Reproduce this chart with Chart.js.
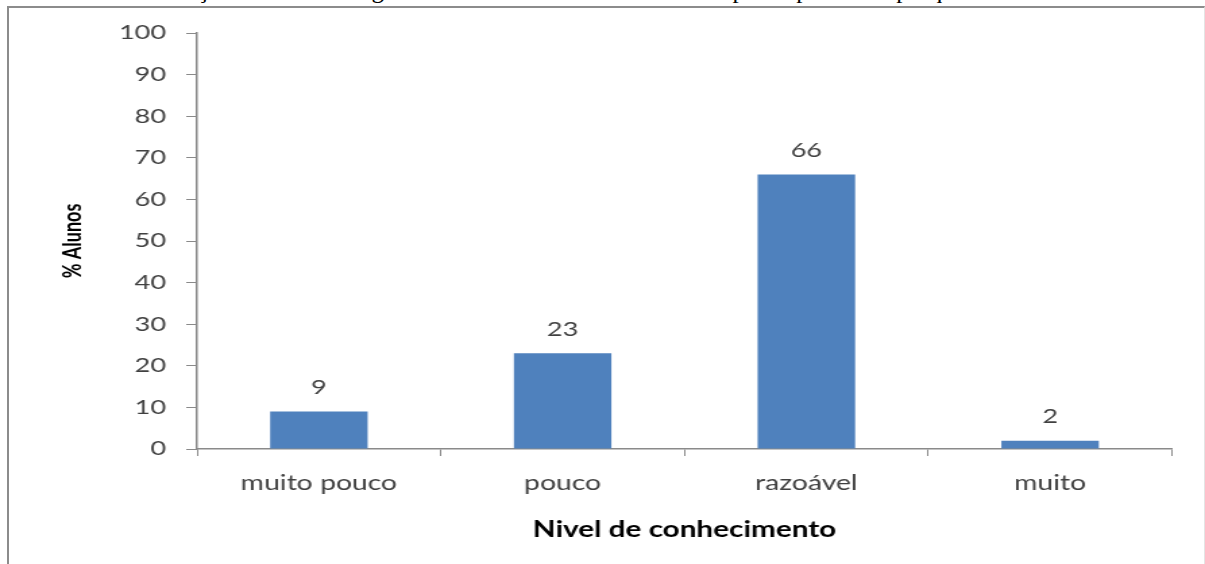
<!DOCTYPE html>
<html>
<head>
<meta charset="utf-8">
<script src="https://cdn.jsdelivr.net/npm/chart.js@4"></script>
<style>
  html, body { margin: 0; padding: 0; background: #fff; overflow: hidden; }
  body { width: 1205px; height: 564px; position: relative; }
  #caption {
    position: absolute; left: 0; top: -24px; white-space: nowrap;
    font-family: "Liberation Serif", serif; font-size: 25px; color: #000;
  }
  #frame {
    position: absolute; left: 7px; top: 6px; width: 1195px; height: 600px;
    border-left: 2px solid #8c8c8c; border-top: 2px solid #8c8c8c;
    border-right: 1px solid #e4e4e4;
    background: #fff;
  }
  /* chart is drawn narrow and widened to the page width */
  #wrap {
    position: absolute; left: 0; top: 0; width: 893px; height: 564px;
    transform: scaleX(1.3494); transform-origin: 0 0;
  }
</style>
</head>
<body>
<div id="caption">Gráfico 3: Distribuição dos alunos segundo o nível de conhecimento dos participantes da pesquisa.</div>
<div id="frame"></div>
<div id="wrap"><canvas id="chart" width="893" height="564"></canvas></div>
<script>
const categories = ["muito pouco", "pouco", "razoável", "muito"];
const percentAlunos = [9, 23, 66, 2];
const yMin = 0;
const yMax = 100;
const yStep = 10;

const textGray = "#404040";
const axisGray = "#8a8a8a";
const fontFamily = "Lato, 'Open Sans', sans-serif";

// value printed above each bar
const barValueLabels = {
    id: "barValueLabels",
    afterDatasetsDraw(chart) {
        const ctx = chart.ctx;
        const meta = chart.getDatasetMeta(0);
        ctx.save();
        ctx.font = "20px " + fontFamily;
        ctx.fillStyle = textGray;
        ctx.textAlign = "center";
        ctx.textBaseline = "middle";
        meta.data.forEach((bar, i) => {
            ctx.fillText(String(percentAlunos[i]), bar.x, bar.y - 24);
        });
        ctx.restore();
    }
};

new Chart(document.getElementById("chart").getContext("2d"), {
    type: "bar",
    data: {
        labels: categories,
        datasets: [{
            data: percentAlunos,
            backgroundColor: "#4f81bd",
            borderWidth: 0,
            barPercentage: 0.4,
            categoryPercentage: 1.0
        }]
    },
    options: {
        responsive: false,
        animation: false,
        devicePixelRatio: 1,
        layout: { padding: { left: 0, top: 33, right: 24.5, bottom: 0 } },
        plugins: {
            legend: { display: false },
            tooltip: { enabled: false }
        },
        scales: {
            x: {
                afterFit(scale) { scale.height = 115; },
                grid: { drawOnChartArea: false, drawTicks: true, tickLength: 7, color: axisGray, offset: true },
                border: { display: true, color: axisGray, width: 1.5 },
                ticks: { color: textGray, font: { family: fontFamily, size: 21 }, padding: 15, maxRotation: 0 },
                title: {
                    display: true,
                    text: "Nivel de conhecimento",
                    color: "#000",
                    font: { family: fontFamily, size: 22, weight: "bold" },
                    padding: { top: 0, bottom: 21 }
                }
            },
            y: {
                min: yMin,
                max: yMax,
                afterFit(scale) { scale.width = 146; },
                grid: { drawOnChartArea: false, drawTicks: true, tickLength: 8, color: axisGray },
                border: { display: true, color: axisGray, width: 1.5 },
                ticks: { stepSize: yStep, color: textGray, font: { family: fontFamily, size: 20 }, padding: 15 },
                title: {
                    display: true,
                    text: "% Alunos",
                    color: "#000",
                    font: { family: fontFamily, size: 18, weight: "bold" },
                    padding: { top: 43, bottom: 0 }
                }
            }
        }
    },
    plugins: [barValueLabels]
});
</script>
</body>
</html>
